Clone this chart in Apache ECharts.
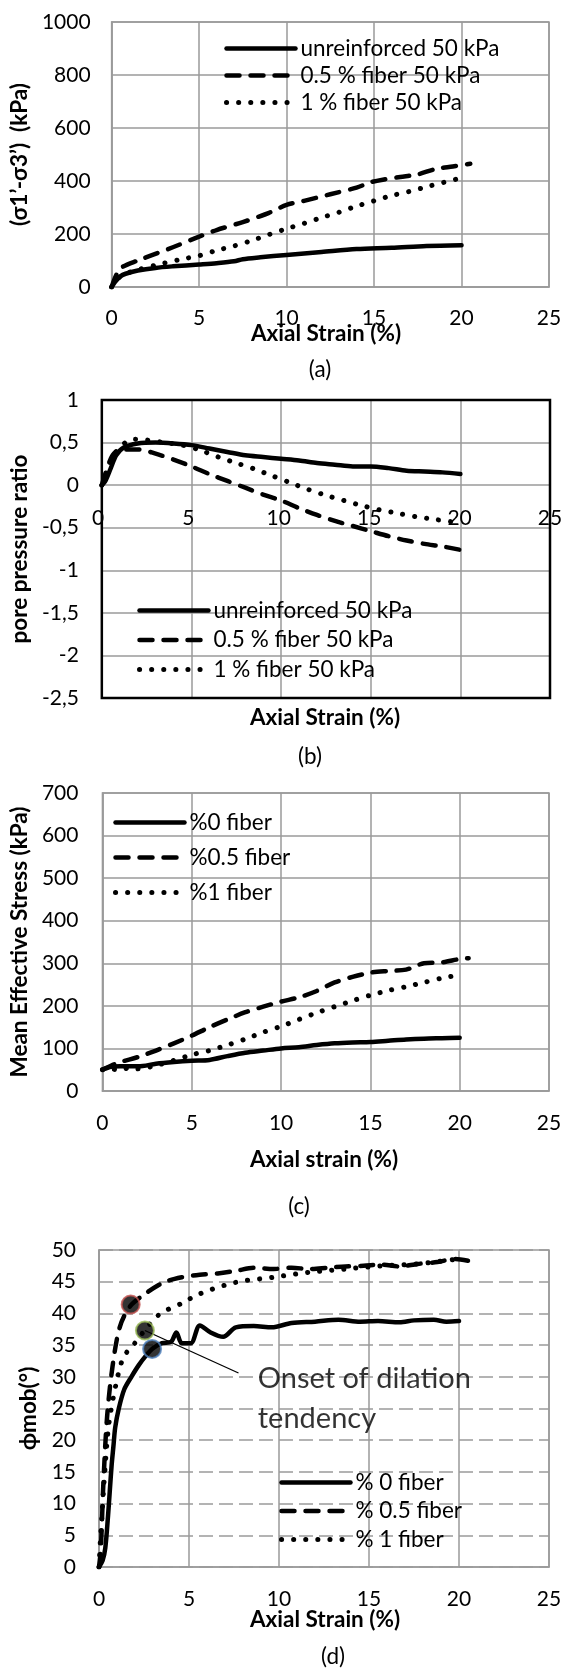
<!DOCTYPE html>
<html>
<head>
<meta charset="utf-8">
<script src="https://cdn.jsdelivr.net/npm/echarts@6/dist/echarts.min.js"></script>
<style>
  html, body { margin: 0; padding: 0; background: #fff; }
  #main { width: 571px; height: 1671px; }
</style>
</head>
<body>
<div id="main"></div>
<script>
// (a) deviator stress (kPa) vs axial strain (%)
var devUnreinf = [[0,0],[0.2,20],[0.5,40],[0.8,50],[1.5,62],[2.5,72],[3.5,78],[5,85],[6,90],[7,97],[7.5,105],[8.5,112],[10,121],[12,132],[14,143],[16,148],[18,155],[20,158]];
var devHalf = [[0,0],[0.3,50],[0.6,75],[1.5,100],[2.5,125],[3.5,150],[5,190],[6,215],[7.5,245],[9,280],[10,310],[11,325],[12.5,350],[14,375],[14.8,395],[15.5,405],[16.5,415],[17.5,425],[18.5,445],[19.5,455],[20.5,465]];
var devOne = [[0,0],[0.5,40],[1.5,65],[3,90],[4,105],[5,118],[6,138],[7,155],[8,175],[9,198],[10,220],[11,240],[12,262],[13,282],[14,305],[15,325],[16,345],[17,360],[18,378],[19,395],[20,412]];

// (b) pore pressure ratio vs axial strain
var ppUnreinf = [[0,0],[0.2,0.05],[0.5,0.2],[0.8,0.35],[1.2,0.44],[2,0.49],[3,0.5],[4,0.49],[5,0.47],[6,0.43],[7,0.39],[8,0.35],[9,0.33],[10,0.31],[11,0.29],[12,0.26],[13,0.24],[14,0.22],[15,0.22],[16,0.2],[17,0.17],[18,0.16],[19,0.15],[20,0.13]];
var ppHalf = [[0,0],[0.3,0.2],[0.6,0.35],[1,0.42],[2,0.42],[3,0.37],[4,0.3],[5,0.22],[6,0.13],[7,0.05],[8,-0.03],[9,-0.11],[10,-0.18],[11,-0.27],[12,-0.35],[13,-0.42],[14,-0.48],[15,-0.54],[16,-0.6],[17,-0.65],[18,-0.69],[19,-0.72],[20,-0.76]];
var ppOne = [[0,0],[0.3,0.15],[0.7,0.35],[1.2,0.48],[1.7,0.54],[2.5,0.53],[3.5,0.5],[4.5,0.47],[5.5,0.41],[6.5,0.33],[7.5,0.26],[8.5,0.19],[9.5,0.11],[10.5,0.03],[11.5,-0.05],[12.5,-0.12],[13.5,-0.18],[14.5,-0.24],[15.5,-0.29],[16.5,-0.33],[17.5,-0.37],[18.5,-0.4],[19.5,-0.43],[20,-0.45]];
var ppMin = -2.5, ppMax = 1;

// (c) mean effective stress (kPa) vs axial strain
var mesZero = [[0,50],[0.5,57],[1,58],[2,58],[3,64],[4,68],[5,71],[6,73],[7,82],[8,90],[9,95],[10,100],[11,103],[12,108],[13,112],[14,114],[15,115],[16,118],[17,121],[18,123],[19,124],[20,125]];
var mesHalf = [[0,50],[0.5,60],[1,68],[2,80],[3,95],[4,112],[5,130],[6,150],[7,168],[8,185],[9,198],[10,210],[11,220],[12,235],[13,255],[14,268],[15,278],[16,282],[17,285],[18,300],[19,302],[20,310],[20.5,312]];
var mesOne = [[0,50],[0.5,52],[1,48],[1.5,55],[2,52],[3,60],[4,72],[5,85],[6,95],[7,108],[8,122],[9,138],[10,152],[11,168],[12,184],[13,198],[14,212],[15,225],[16,236],[17,245],[18,255],[19,265],[20,273]];

// (d) mobilised friction angle vs axial strain
var phiZero = [[0,0],[0.2,1],[0.35,3],[0.5,8],[0.6,12],[0.7,16],[0.8,19],[0.9,22],[1.1,25],[1.4,28],[1.8,30],[2.2,31.8],[2.6,33.3],[3,34.5],[3.5,35.3],[4,35.5],[4.3,37],[4.6,35.3],[5.1,35.3],[5.6,38.1],[6.2,37],[6.9,36.3],[7.6,37.8],[8.6,38],[9.6,37.8],[10.7,38.5],[12,38.7],[13.3,39],[14.5,38.7],[15.5,38.8],[16.7,38.6],[17.5,38.9],[18.6,39],[19.3,38.7],[20,38.8]];
var phiHalf = [[0,0],[0.1,2.7],[0.24,13],[0.45,23.7],[0.75,31.6],[1.15,37.8],[1.72,41.1],[2.57,43.1],[3.6,44.9],[4.6,45.7],[5.6,46.1],[6.6,46.3],[7.6,46.7],[8.6,47.2],[9.7,47],[10.7,47.2],[11.7,47],[12.7,47.2],[13.7,47.4],[14.7,47.5],[15.7,47.7],[16.7,47.4],[17.7,47.8],[18.8,48.1],[19.8,48.6],[20.5,48.3]];
var phiOne = [[0,0],[0.1,5.3],[0.34,15.8],[0.55,22.6],[0.95,28.9],[1.36,33.1],[1.96,35.2],[2.53,37.3],[3.38,39.9],[4.6,41.6],[5.6,43.1],[7.6,44.9],[9.7,45.7],[11.7,46.5],[13.7,47],[15.7,47.5],[17.7,47.8],[20,48.6]];

var onsetX = [1.76, 2.55, 2.95];
var onsetY = [41.4, 37.3, 34.4];
var onsetColors = ['#c0504d', '#9bbb59', '#4f81bd'];
var leaderLine = [[2.55, 37.3], [7.75, 30.6]];
var noteAt = [8.85, 29.6];

var FONT = 'Lato, "Open Sans", sans-serif';
var GRID_COLOR = '#9a9a9a';
var TICK_SIZE = 21;
var TEXT_SIZE = 22.5;

var solid = { color: '#000', width: 4.5, type: 'solid', join: 'round', cap: 'round' };
var dashed = { color: '#000', width: 4.5, type: [13, 11], join: 'round', cap: 'round' };
var dotted = { color: '#000', width: 5, type: [0.1, 12], join: 'round', cap: 'round' };
var styles = [solid, dashed, dotted];

function line(name, data, style, idx) {
  return {
    name: name, type: 'line', data: data, xAxisIndex: idx, yAxisIndex: idx,
    symbol: 'none', smooth: 0.3, lineStyle: style, itemStyle: { color: '#000' },
    silent: true
  };
}

function xAxis(idx, margin, hideLabels) {
  return {
    gridIndex: idx, type: 'value', min: 0, max: 25, interval: 5,
    axisLine: { show: true, onZero: false, lineStyle: { color: GRID_COLOR, width: 1.5 } },
    axisTick: { show: false },
    splitLine: { show: true, lineStyle: { color: GRID_COLOR, width: 1.5 } },
    axisLabel: { show: !hideLabels, fontSize: TICK_SIZE, color: '#000', fontFamily: FONT, margin: margin }
  };
}

function yAxis(idx, min, max, step, name, gap, margin, dash, fmt) {
  return {
    gridIndex: idx, type: 'value', min: min, max: max, interval: step,
    name: name, nameLocation: 'middle', nameGap: gap,
    nameTextStyle: { fontSize: TEXT_SIZE, fontWeight: 'bold', color: '#000', fontFamily: FONT },
    axisLine: { show: true, onZero: false, lineStyle: { color: GRID_COLOR, width: 1.5 } },
    axisTick: { show: false },
    splitLine: { show: true, lineStyle: { color: GRID_COLOR, width: 1.5, type: dash ? [14, 6] : 'solid' } },
    axisLabel: {
      fontSize: TICK_SIZE, color: '#000', fontFamily: FONT, margin: margin,
      formatter: fmt || function (v) { return String(v); }
    }
  };
}

function legend(names, left, top, gap) {
  return {
    data: names.map(function (n, i) { return { name: n, lineStyle: styles[i] }; }),
    orient: 'vertical', left: left, top: top,
    itemWidth: 69, itemHeight: 14, itemGap: gap, padding: 0,
    selectedMode: false,
    itemStyle: { color: 'rgba(0,0,0,0)', borderWidth: 0 },
    textStyle: { fontSize: TEXT_SIZE, color: '#000', fontFamily: FONT, lineHeight: 22 }
  };
}

function label(text, x, y, bold) {
  return {
    text: text, left: x, top: y - 12, textAlign: 'center', padding: 0,
    textStyle: { fontSize: TEXT_SIZE, fontWeight: bold ? 'bold' : 'normal', color: '#000', fontFamily: FONT, lineHeight: 24 }
  };
}

var namesAB = ['unreinforced 50 kPa', '0.5 % fiber 50 kPa', '1 % fiber 50 kPa'];
var namesC = ['%0 fiber', '%0.5 fiber', '%1 fiber'];
var namesD = ['% 0 fiber', '% 0.5 fiber', '% 1 fiber'];

// chart (b): strain labels sit under the zero line, so a label-only grid ends there
var gridB = { left: 98, top: 400, width: 452, height: 298 };
var zeroBandB = { left: gridB.left, top: gridB.top, width: gridB.width, height: gridB.height * ppMax / (ppMax - ppMin) };

var chart = echarts.init(document.getElementById('main'));
var option = {
  backgroundColor: '#fff',
  animation: false,
  textStyle: { fontFamily: FONT },
  title: [
    label('Axial Strain (%)', 326, 334, true),
    label('(a)', 320, 370, false),
    label('Axial Strain (%)', 325, 718, true),
    label('(b)', 310, 757, false),
    label('Axial strain (%)', 324, 1160, true),
    label('(c)', 299, 1207, false),
    label('Axial Strain (%)', 325, 1620, true),
    label('(d)', 333, 1657, false)
  ],
  legend: [
    legend(namesAB, 224, 37, 4),
    legend(namesAB, 137, 599, 6.5),
    legend(namesC, 113, 811, 12),
    legend(namesD, 279, 1471, 5.5)
  ],
  grid: [
    { left: 103, top: 22, width: 446, height: 265, show: true, borderColor: GRID_COLOR, borderWidth: 1.5 },
    { left: gridB.left, top: gridB.top, width: gridB.width, height: gridB.height, show: true, borderColor: '#000', borderWidth: 2.5, z: 5 },
    { left: 98, top: 793, width: 451, height: 298, show: true, borderColor: GRID_COLOR, borderWidth: 1.5 },
    { left: 99, top: 1250, width: 450, height: 317, show: true, borderColor: GRID_COLOR, borderWidth: 1.5 },
    zeroBandB
  ],
  xAxis: [
    xAxis(0, 21), xAxis(1, 23, true), xAxis(2, 22), xAxis(3, 22),
    {
      gridIndex: 4, type: 'value', min: 0, max: 25, interval: 5,
      axisLine: { show: false }, axisTick: { show: false }, splitLine: { show: false },
      axisLabel: { fontSize: TICK_SIZE, color: '#000', fontFamily: FONT, margin: 23 }
    }
  ],
  yAxis: [
    yAxis(0, 0, 1000, 200, '(σ1’-σ3’)  (kPa)', 64, 21, false),
    yAxis(1, ppMin, ppMax, 0.5, 'pore pressure ratio', 59, 23, false, function (v) { return String(v).replace('.', ','); }),
    yAxis(2, 0, 700, 100, 'Mean Effective Stress (kPa)', 59, 24, false),
    yAxis(3, 0, 50, 5, 'ϕmob(°)', 54, 23, true),
    { gridIndex: 4, type: 'value', min: 0, max: ppMax, show: false }
  ],
  series: [
    line(namesAB[0], devUnreinf, solid, 0),
    line(namesAB[1], devHalf, dashed, 0),
    line(namesAB[2], devOne, dotted, 0),
    line(namesAB[0], ppUnreinf, solid, 1),
    line(namesAB[1], ppHalf, dashed, 1),
    line(namesAB[2], ppOne, dotted, 1),
    line(namesC[0], mesZero, solid, 2),
    line(namesC[1], mesHalf, dashed, 2),
    line(namesC[2], mesOne, dotted, 2),
    line(namesD[0], phiZero, solid, 3),
    line(namesD[1], phiHalf, dashed, 3),
    line(namesD[2], phiOne, dotted, 3),
    {
      name: 'leader', type: 'line', data: leaderLine, xAxisIndex: 3, yAxisIndex: 3,
      symbol: 'none', silent: true, lineStyle: { color: '#000', width: 1.3 }
    },
    {
      name: 'note', type: 'scatter', data: [noteAt], xAxisIndex: 3, yAxisIndex: 3,
      symbolSize: 1, itemStyle: { color: 'rgba(0,0,0,0)' }, silent: true,
      label: {
        show: true, position: [0, -20], align: 'left', verticalAlign: 'top',
        formatter: 'Onset of dilation\ntendency',
        fontSize: 29, lineHeight: 40, color: '#000', fontFamily: FONT
      }
    },
    {
      name: 'onset', type: 'scatter', xAxisIndex: 3, yAxisIndex: 3, z: 5,
      symbolSize: 18, silent: true,
      data: onsetX.map(function (x, i) {
        return { value: [x, onsetY[i]], itemStyle: { color: '#000', borderColor: onsetColors[i], borderWidth: 2 } };
      })
    }
  ]
};
option && chart.setOption(option);
</script>
</body>
</html>
